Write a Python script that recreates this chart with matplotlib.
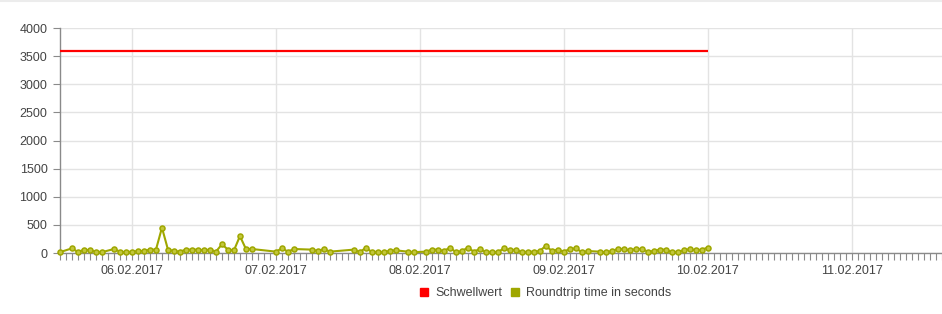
import matplotlib
matplotlib.use("Agg")
import matplotlib.pyplot as plt
import matplotlib.dates as mdates
from matplotlib.lines import Line2D
from datetime import datetime, timedelta

plt.rcParams['font.family'] = ['Liberation Sans', 'DejaVu Sans']

# ---- data ----
start = datetime(2017, 2, 5, 12, 0)
end_view = datetime(2017, 2, 11, 15, 3)
hours = [0, 2, 3, 4, 5, 6, 7, 9, 10, 11, 12, 13, 14, 15, 16, 17, 18,
         19, 20, 21, 22, 23, 24, 25, 26, 27, 28, 29, 30, 31, 32, 36, 37,
         38, 39, 42, 43, 44, 45, 49, 50, 51, 52, 53, 54, 55, 56, 58, 59,
         61, 62, 63, 64, 65, 66, 67, 68, 69, 70, 71, 72, 73, 74, 75, 76,
         77, 78, 79, 80, 81, 82, 83, 84, 85, 86, 87, 88, 90, 91, 92, 93,
         94, 95, 96, 97, 98, 99, 100, 101, 102, 103, 104, 105, 106, 107, 108]
roundtrip = [15, 83, 15, 60, 47, 24, 15, 71, 24, 15, 24, 35, 35, 60, 60, 450, 60,
             35, 24, 60, 60, 60, 47, 60, 24, 155, 60, 47, 300, 71, 71, 24, 83,
             24, 71, 60, 35, 71, 24, 60, 15, 95, 15, 24, 15, 40, 47, 24, 15,
             24, 60, 60, 35, 95, 15, 35, 95, 24, 71, 15, 24, 15, 83, 47, 60,
             15, 24, 24, 35, 130, 35, 60, 24, 71, 83, 15, 35, 24, 15, 35, 71,
             71, 47, 71, 71, 24, 35, 60, 60, 15, 24, 47, 71, 47, 60, 95]
threshold_start = datetime(2017, 2, 5, 12, 0)
threshold_end = datetime(2017, 2, 10, 0, 0)
threshold_value = 3600
y_ticks = [0, 500, 1000, 1500, 2000, 2500, 3000, 3500, 4000]
series_names = ["Schwellwert", "Roundtrip time in seconds"]

times = [start + timedelta(hours=h) for h in hours]

RED = '#ff0000'
GREEN = '#9fa700'
GREEN_FACE = '#c3c73c'
GRID = '#e3e3e3'
AXIS = '#8a8a8a'
TXT = '#444444'

fig = plt.figure(figsize=(9.42, 3.14), dpi=100)
ax = fig.add_axes([60/942, 1-253/314, 1-60/942, (253-28)/314])

ax.plot([threshold_start, threshold_end], [threshold_value, threshold_value],
        color=RED, lw=1.6, solid_capstyle='butt', zorder=3)
ax.plot(times, roundtrip, color=GREEN, lw=1.5, marker='o', ms=3.6,
        mfc=GREEN_FACE, mec=GREEN, mew=1.1, zorder=4, clip_on=False)

ax.set_xlim(start, end_view)
ax.set_ylim(0, 4000)
ax.set_yticks(y_ticks)

ax.xaxis.set_major_locator(mdates.DayLocator())
ax.xaxis.set_major_formatter(mdates.DateFormatter('%d.%m.%Y'))
ax.xaxis.set_minor_locator(mdates.HourLocator())

ax.grid(True, which='major', color=GRID, lw=1)
ax.set_axisbelow(True)

for s in ['top', 'right']:
    ax.spines[s].set_visible(False)
for s in ['left', 'bottom']:
    ax.spines[s].set_color(AXIS)
    ax.spines[s].set_linewidth(1)

ax.tick_params(axis='x', which='both', length=5, color=AXIS, width=0.8,
               labelsize=9, labelcolor=TXT, pad=4)
ax.tick_params(axis='y', which='major', length=5, color=AXIS, width=0.8,
               labelsize=9, labelcolor=TXT, pad=4)

handles = [Line2D([], [], ls='none', marker='s', ms=6, color=RED),
           Line2D([], [], ls='none', marker='s', ms=6, color=GREEN)]
leg = fig.legend(handles, series_names, loc='center', ncol=2,
                 bbox_to_anchor=(545/942, 1-293/314), frameon=False,
                 fontsize=9, handlelength=0.8, handletextpad=0.5,
                 columnspacing=0.6, labelcolor=TXT)

fig.add_artist(Line2D([0, 1], [1-1/314, 1-1/314], transform=fig.transFigure,
                      color='#ececec', lw=1.5))

fig.savefig('out.png', dpi=100)
